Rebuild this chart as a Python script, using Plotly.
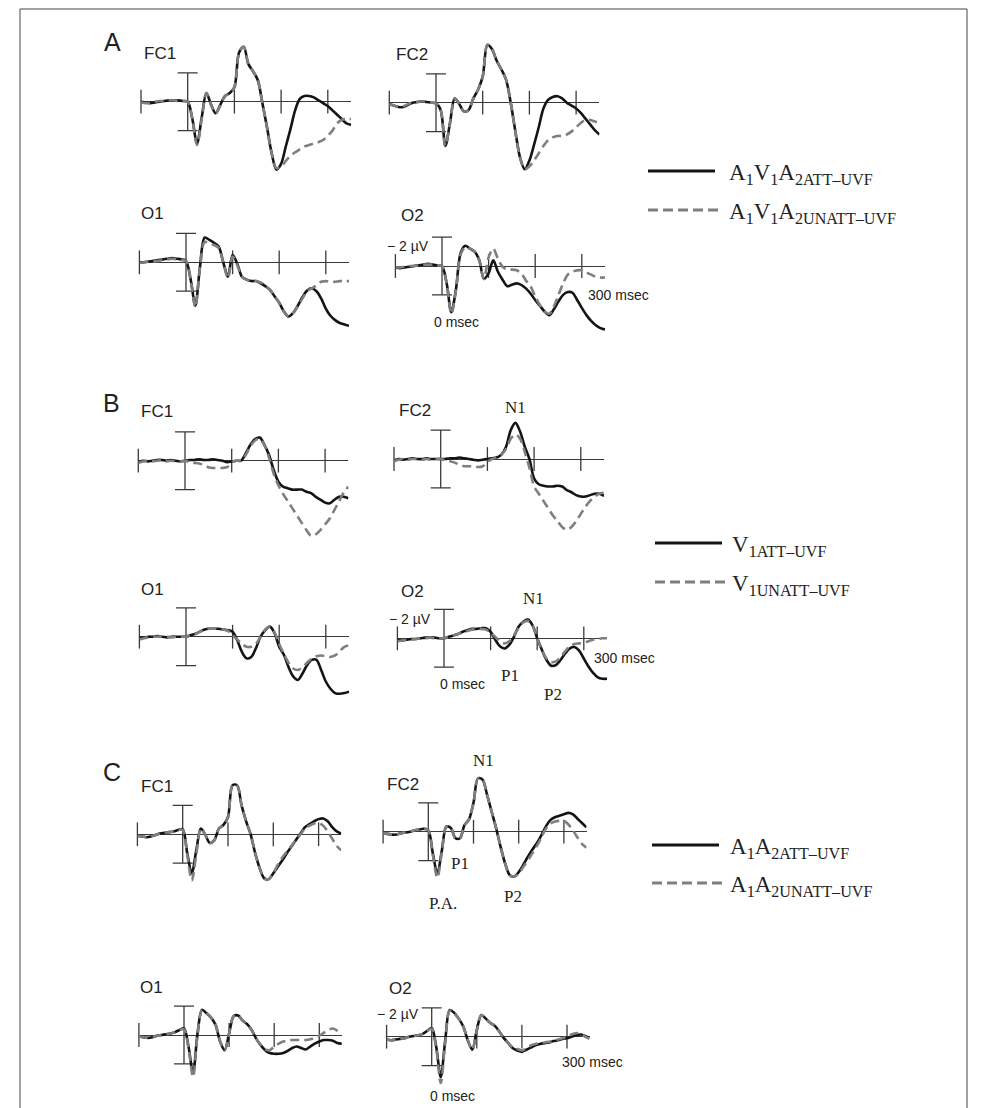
import plotly.graph_objects as go

W, H = 988, 1108
OFF = 8  # the page body adds an 8px margin around the figure

# ---------------- data (µV, negative plotted upward) ----------------
T = list(range(-100, 351, 10))          # msec
TICKS_MS = [-100, 100, 200, 300]        # tick marks on the time axis
SCALE_UV = 2                            # calibration bar ±2 µV

A_FC1_ATT = [0.0, 0.05, 0.1, 0.05, 0.0, -0.05, -0.1, -0.1, -0.1, -0.05,
             0.0, 1.2, 2.9, 1.1, -0.6, 0.2, 0.8, 0.2, -0.4, -0.6,
             -1.0, -3.4, -3.8, -2.6, -2.1, -1.5, 0.1, 1.8, 3.6, 4.7,
             4.3, 3.1, 1.9, 0.6, -0.2, -0.4, -0.4, -0.3, -0.1, 0.1,
             0.3, 0.6, 0.9, 1.2, 1.5, 1.6]
A_FC1_UNATT = [0.05, 0.1, 0.1, 0.0, -0.05, -0.05, -0.1, -0.1, -0.05, -0.05,
               0.0, 1.2, 3.0, 1.2, -0.6, 0.2, 0.8, 0.25, -0.4, -0.6,
               -1.0, -3.4, -3.8, -2.6, -2.1, -1.5, 0.1, 1.8, 3.6, 4.6,
               4.5, 4.1, 3.75, 3.5, 3.3, 3.1, 3.0, 2.9, 2.8, 2.65,
               2.35, 2.0, 1.5, 1.25, 1.2, 1.2]

A_FC2_ATT = [0.1, 0.2, 0.3, 0.3, 0.15, 0.0, -0.05, -0.1, -0.05, 0.0,
             0.05, 0.5, 3.0, 1.4, -0.3, 0.1, 0.6, 0.5, -0.3, -0.9,
             -1.8, -4.0, -3.7, -2.9, -2.3, -1.6, 0.0, 2.0, 3.8, 4.6,
             4.0, 2.9, 1.7, 0.4, -0.2, -0.4, -0.45, -0.3, 0.0, 0.2,
             0.4, 0.7, 1.1, 1.5, 1.9, 2.2]
A_FC2_UNATT = [0.1, 0.2, 0.3, 0.25, 0.1, 0.0, -0.05, -0.1, -0.05, 0.0,
               0.05, 0.5, 3.0, 1.4, -0.3, 0.1, 0.6, 0.5, -0.3, -0.9,
               -1.8, -4.0, -3.7, -2.9, -2.3, -1.6, 0.0, 2.0, 3.8, 4.6,
               4.4, 4.0, 3.5, 3.0, 2.6, 2.4, 2.3, 2.3, 2.2, 2.0,
               1.7, 1.4, 1.2, 1.2, 1.3, 1.4]

A_O1_ATT = [0.0, 0.0, -0.05, -0.1, -0.15, -0.2, -0.25, -0.3, -0.25, -0.2,
            -0.1, 1.2, 3.0, 0.3, -1.7, -1.55, -1.35, -1.1, 0.0, 1.0,
            -0.5, 0.1, 1.0, 1.2, 1.3, 1.3, 1.45, 1.65, 1.9, 2.35,
            2.8, 3.4, 3.75, 3.5, 3.0, 2.4, 1.95, 1.8, 2.0, 2.5,
            3.2, 3.7, 4.0, 4.2, 4.3, 4.4]
A_O1_UNATT = [0.05, 0.0, -0.05, -0.05, -0.1, -0.15, -0.2, -0.25, -0.2, -0.15,
              -0.1, 1.2, 3.1, 0.4, -1.4, -1.3, -1.2, -1.0, 0.0, 1.1,
              -0.4, 0.2, 1.0, 1.2, 1.3, 1.3, 1.4, 1.6, 1.9, 2.35,
              2.8, 3.4, 3.75, 3.5, 3.05, 2.5, 2.0, 1.8, 1.6, 1.35,
              1.3, 1.35, 1.35, 1.3, 1.3, 1.3]

A_O2_ATT = [0.1, 0.15, 0.1, 0.05, 0.0, -0.05, -0.1, -0.15, -0.1, -0.05,
            0.0, 1.2, 3.2, 1.6, -0.9, -1.4, -1.2, -1.0, -0.4, 0.9,
            0.5, -0.4, 0.4, 0.95, 1.4, 1.3, 1.2, 1.3, 1.55, 1.9,
            2.35, 2.75, 3.15, 3.4, 3.0, 2.45, 2.0, 1.8, 1.85, 2.35,
            2.9, 3.4, 3.8, 4.1, 4.3, 4.4]
A_O2_UNATT = [0.1, 0.1, 0.05, 0.0, 0.0, -0.05, -0.1, -0.1, -0.1, -0.05,
              0.0, 1.2, 3.3, 1.7, -0.8, -1.3, -1.2, -1.0, -0.4, 0.9,
              -0.6, -1.2, -0.5, 0.05, 0.25, 0.25, 0.3, 0.5, 1.0, 1.4,
              2.1, 2.7, 3.15, 3.3, 2.8, 2.0, 1.2, 0.6, 0.4, 0.3,
              0.3, 0.45, 0.6, 0.75, 0.8, 0.8]

B_FC1_ATT = [0.1, 0.0, 0.05, 0.0, -0.05, -0.05, 0.0, -0.05, 0.0, 0.05,
             0.0, -0.05, -0.05, -0.1, -0.05, -0.05, -0.1, -0.05, 0.0, 0.1,
             0.05, 0.0, 0.0, -0.5, -1.1, -1.5, -1.6, -1.1, -0.4, 0.65,
             1.45, 1.8, 1.9, 2.0, 2.0, 2.0, 2.15, 2.25, 2.5, 2.7,
             2.9, 2.95, 2.7, 2.5, 2.5, 2.6]
B_FC1_UNATT = [0.15, 0.05, 0.0, 0.05, 0.0, -0.05, 0.05, 0.0, 0.05, 0.05,
               0.0, 0.1, 0.15, 0.2, 0.3, 0.45, 0.5, 0.5, 0.5, 0.45,
               0.1, 0.0, 0.0, -0.4, -1.0, -1.4, -1.5, -1.1, -0.2, 0.9,
               1.7, 2.3, 2.8, 3.3, 3.8, 4.3, 4.8, 5.2, 5.1, 4.8,
               4.4, 4.0, 3.4, 2.8, 2.2, 1.8]

B_FC2_ATT = [0.1, 0.0, 0.05, 0.0, -0.05, 0.0, 0.0, -0.05, 0.0, 0.0,
             0.0, 0.0, -0.05, -0.05, -0.1, -0.05, 0.0, 0.05, 0.1, 0.05,
             0.0, -0.05, -0.1, -0.3, -0.85, -2.0, -2.5, -1.9, -0.85, 0.0,
             1.35, 1.75, 1.85, 1.9, 1.9, 1.85, 1.9, 2.15, 2.3, 2.5,
             2.6, 2.6, 2.5, 2.4, 2.4, 2.55]
B_FC2_UNATT = [0.15, 0.05, 0.0, 0.05, 0.0, 0.0, 0.05, 0.0, 0.05, 0.0,
               0.0, 0.1, 0.15, 0.25, 0.4, 0.5, 0.5, 0.5, 0.55, 0.5,
               0.2, 0.0, -0.1, -0.3, -0.7, -1.4, -1.7, -1.4, -0.5, 0.6,
               1.9, 2.4, 2.9, 3.4, 3.9, 4.3, 4.7, 4.9, 4.7, 4.3,
               3.8, 3.3, 2.9, 2.6, 2.4, 2.3]

B_O1_ATT = [0.1, 0.05, 0.0, 0.0, -0.05, 0.0, 0.05, 0.0, 0.0, 0.0,
            0.0, -0.1, -0.2, -0.35, -0.5, -0.55, -0.55, -0.55, -0.5, -0.45,
            -0.35, 0.25, 1.05, 1.5, 1.4, 0.8, 0.0, -0.45, -0.7, -0.25,
            0.7, 1.25, 2.1, 2.75, 3.0, 2.55, 1.95, 1.6, 1.6, 2.3,
            3.1, 3.6, 3.9, 3.95, 3.9, 3.8]
B_O1_UNATT = [0.2, 0.1, 0.05, 0.0, 0.0, -0.05, 0.0, 0.05, 0.0, 0.0,
              0.0, -0.1, -0.2, -0.35, -0.5, -0.55, -0.55, -0.55, -0.5, -0.4,
              -0.1, 0.2, 0.5, 0.7, 0.7, 0.5, 0.0, -0.5, -0.7, -0.3,
              0.5, 1.2, 1.8, 2.2, 2.3, 2.1, 1.8, 1.5, 1.35, 1.3,
              1.35, 1.4, 1.3, 1.0, 0.7, 0.6]

B_O2_ATT = [0.1, 0.15, 0.1, 0.05, 0.05, 0.0, -0.05, -0.05, -0.05, 0.0,
            0.0, -0.1, -0.2, -0.3, -0.45, -0.55, -0.65, -0.65, -0.7, -0.7,
            -0.45, 0.1, 0.55, 0.7, 0.45, -0.1, -0.8, -1.15, -1.3, -0.9,
            0.0, 0.8, 1.5, 1.9, 1.85, 1.5, 1.05, 0.7, 0.6, 0.85,
            1.4, 1.95, 2.4, 2.7, 2.8, 2.8]
B_O2_UNATT = [0.2, 0.15, 0.1, 0.1, 0.05, 0.0, 0.0, -0.05, 0.0, 0.0,
              0.0, -0.1, -0.2, -0.3, -0.4, -0.5, -0.6, -0.65, -0.65, -0.6,
              -0.4, -0.1, 0.2, 0.35, 0.2, -0.2, -0.7, -1.1, -1.2, -0.9,
              0.0, 0.8, 1.4, 1.65, 1.6, 1.3, 0.9, 0.55, 0.4, 0.35,
              0.3, 0.2, 0.1, 0.05, 0.0, 0.0]

C_FC1_ATT = [0.1, 0.15, 0.2, 0.15, 0.05, -0.05, -0.1, -0.15, -0.2, -0.3,
             -0.35, 1.3, 2.7, 1.1, -0.4, 0.05, 0.6, 0.4, -0.4, -0.65,
             -1.2, -3.4, -3.4, -2.0, -0.9, 0.0, 1.3, 2.35, 3.05, 3.1,
             2.7, 2.25, 1.8, 1.3, 0.85, 0.4, -0.05, -0.5, -0.7, -0.9,
             -1.05, -1.1, -0.9, -0.5, -0.2, -0.05]
C_FC1_UNATT = [0.1, 0.15, 0.2, 0.15, 0.05, -0.05, -0.1, -0.15, -0.2, -0.3,
               -0.3, 1.4, 3.2, 1.4, -0.4, 0.05, 0.6, 0.4, -0.4, -0.65,
               -1.2, -3.4, -3.4, -2.0, -0.9, 0.0, 1.3, 2.35, 3.05, 3.1,
               2.7, 2.1, 1.6, 1.2, 0.8, 0.4, 0.0, -0.4, -0.6, -0.75,
               -0.8, -0.6, -0.2, 0.3, 0.8, 1.1]

C_FC2_ATT = [0.1, 0.15, 0.2, 0.2, 0.1, 0.05, 0.0, -0.1, -0.15, -0.2,
             -0.1, 1.5, 2.9, 1.3, -0.35, -0.25, 0.45, 0.45, -0.45, -0.85,
             -2.0, -3.7, -3.6, -2.55, -1.4, -0.25, 1.05, 2.2, 3.0, 3.1,
             2.8, 2.3, 1.75, 1.25, 0.8, 0.25, -0.35, -0.8, -1.0, -1.1,
             -1.2, -1.3, -1.2, -0.9, -0.6, -0.3]
C_FC2_UNATT = [0.1, 0.15, 0.2, 0.2, 0.1, 0.05, 0.0, -0.1, -0.15, -0.2,
               -0.1, 1.6, 3.2, 1.4, -0.35, -0.25, 0.45, 0.45, -0.45, -0.85,
               -2.0, -3.7, -3.6, -2.55, -1.4, -0.25, 1.05, 2.2, 3.0, 3.1,
               2.9, 2.45, 2.0, 1.5, 1.0, 0.4, -0.2, -0.55, -0.7, -0.75,
               -0.75, -0.5, -0.1, 0.4, 0.85, 1.1]

C_O1_ATT = [0.1, 0.15, 0.2, 0.15, 0.05, 0.0, -0.05, -0.1, -0.2, -0.35,
            -0.45, 0.8, 2.65, -0.1, -1.75, -1.5, -1.2, -0.7, 0.45, 1.05,
            -0.1, -1.3, -1.35, -1.0, -0.75, -0.35, 0.25, 0.7, 1.05, 1.25,
            1.3, 1.3, 1.25, 1.1, 0.9, 0.8, 0.9, 1.0, 0.8, 0.6,
            0.45, 0.35, 0.35, 0.4, 0.55, 0.6]
C_O1_UNATT = [0.1, 0.15, 0.2, 0.15, 0.05, 0.0, -0.05, -0.1, -0.2, -0.35,
              -0.4, 0.9, 2.9, 0.0, -1.7, -1.5, -1.2, -0.7, 0.45, 1.05,
              -0.1, -1.3, -1.35, -1.0, -0.75, -0.35, 0.25, 0.7, 1.0, 1.05,
              0.8, 0.6, 0.45, 0.4, 0.35, 0.35, 0.35, 0.35, 0.3, 0.2,
              0.05, -0.15, -0.35, -0.45, -0.3, -0.1]

C_O2_ATT = [0.2, 0.25, 0.2, 0.15, 0.1, 0.0, -0.05, -0.1, -0.2, -0.4,
            -0.6, 0.7, 2.8, 0.25, -1.85, -1.65, -1.25, -0.7, 0.25, 0.9,
            -0.45, -1.5, -1.25, -0.95, -0.75, -0.35, 0.1, 0.45, 0.8, 0.95,
            1.05, 0.9, 0.75, 0.6, 0.5, 0.45, 0.4, 0.3, 0.25, 0.15,
            0.1, 0.0, -0.1, -0.15, -0.05, 0.1]
C_O2_UNATT = [0.2, 0.25, 0.2, 0.15, 0.1, 0.0, -0.05, -0.1, -0.2, -0.4,
              -0.55, 0.8, 3.2, 0.4, -1.8, -1.6, -1.25, -0.7, 0.25, 0.9,
              -0.45, -1.5, -1.25, -0.95, -0.75, -0.35, 0.1, 0.45, 0.75, 0.85,
              0.95, 0.8, 0.6, 0.5, 0.45, 0.4, 0.35, 0.3, 0.2, 0.1,
              0.0, -0.15, -0.25, -0.2, 0.0, 0.15]

# ---------------- layout of the panels (pixel geometry in the page) ----------------
# (att, unatt, x of 0 ms, px per ms, y of 0 µV, lower/upper µV range)
PANELS = [
    (A_FC1_ATT, A_FC1_UNATT, 187.7, 0.467, 101.7, -5, 6),
    (A_FC2_ATT, A_FC2_UNATT, 436.0, 0.467, 102.7, -5, 6),
    (A_O1_ATT, A_O1_UNATT, 186.0, 0.466, 262.3, -5, 6),
    (A_O2_ATT, A_O2_UNATT, 442.0, 0.466, 266.0, -5, 6),
    (B_FC1_ATT, B_FC1_UNATT, 185.0, 0.467, 460.7, -5, 6),
    (B_FC2_ATT, B_FC2_UNATT, 440.7, 0.467, 459.0, -5, 6),
    (B_O1_ATT, B_O1_UNATT, 186.0, 0.466, 636.7, -5, 6),
    (B_O2_ATT, B_O2_UNATT, 444.0, 0.466, 638.3, -5, 6),
    (C_FC1_ATT, C_FC1_UNATT, 182.7, 0.453, 834.3, -5, 6),
    (C_FC2_ATT, C_FC2_UNATT, 428.3, 0.452, 831.7, -5, 6),
    (C_O1_ATT, C_O1_UNATT, 184.0, 0.451, 1035.0, -4, 4.5),
    (C_O2_ATT, C_O2_UNATT, 431.7, 0.451, 1036.7, -4, 4.5),
]
PX_PER_UV = 14.45

AX = "#3a3a3a"
BLACK = "#141414"
GRAY = "#7f7f7f"
SANS = "Liberation Sans, Arial, Helvetica, sans-serif"
SERIF = "Liberation Serif, Times New Roman, serif"
TXT = "#222222"


def fx(x):
    """page pixel x -> figure pixel x"""
    return x - OFF


def fy(y):
    return y - OFF


fig = go.Figure()
layout = dict(width=W, height=H, margin=dict(l=0, r=0, t=0, b=0),
              paper_bgcolor="white", plot_bgcolor="rgba(0,0,0,0)",
              showlegend=False)

for i, (att, un, x0, s, y0, lo, hi) in enumerate(PANELS, start=1):
    xn = "x" if i == 1 else f"x{i}"
    yn = "y" if i == 1 else f"y{i}"
    xl = "xaxis" if i == 1 else f"xaxis{i}"
    yl = "yaxis" if i == 1 else f"yaxis{i}"
    left = fx(x0 + T[0] * s)
    right = fx(x0 + T[-1] * s)
    top = fy(y0 + lo * PX_PER_UV)
    bot = fy(y0 + hi * PX_PER_UV)
    layout[xl] = dict(domain=[left / W, right / W], range=[T[0], T[-1]],
                      showgrid=False, zeroline=False, showticklabels=False,
                      ticks="", showline=False, anchor=yn, fixedrange=True)
    layout[yl] = dict(domain=[max(0, 1 - bot / H), 1 - top / H], range=[hi, lo],
                      showgrid=False, zeroline=True, zerolinecolor=AX,
                      zerolinewidth=1.3, showticklabels=False, ticks="",
                      showline=False, anchor=xn, fixedrange=True)
    # tick marks on the time axis
    fig.add_trace(go.Scatter(x=TICKS_MS, y=[0] * len(TICKS_MS), xaxis=xn, yaxis=yn,
                             mode="markers", cliponaxis=False, hoverinfo="skip",
                             marker=dict(symbol="line-ns", size=17,
                                         line=dict(width=1.3, color=AX))))
    # calibration bar at 0 ms
    fig.add_trace(go.Scatter(x=[0], y=[0], xaxis=xn, yaxis=yn, mode="markers",
                             hoverinfo="skip", cliponaxis=False,
                             marker=dict(size=1, color="rgba(0,0,0,0)"),
                             error_y=dict(type="constant", value=SCALE_UV, width=10,
                                          thickness=1.3, color=AX)))
    fig.add_trace(go.Scatter(x=T, y=att, xaxis=xn, yaxis=yn, mode="lines",
                             cliponaxis=False,
                             line=dict(color=BLACK, width=2.6, shape="spline",
                                       smoothing=0.9)))
    fig.add_trace(go.Scatter(x=T, y=un, xaxis=xn, yaxis=yn, mode="lines",
                             cliponaxis=False,
                             line=dict(color=GRAY, width=2.6, shape="spline",
                                       smoothing=0.9, dash="9px,5px")))

fig.update_layout(**layout)


def px(x):
    return fx(x) / W


def py(y):
    return 1 - fy(y) / H


annotations = []


def ann(text, x, y, size, family=SANS, xanchor="center"):
    annotations.append(dict(text=text, x=px(x), y=py(y), xref="paper", yref="paper",
                            xanchor=xanchor, yanchor="middle", showarrow=False,
                            font=dict(family=family, size=size, color=TXT)))


# panel letters and electrode labels
for letter, (lx, ly) in zip("ABC", [(112, 42), (111, 403), (112, 772)]):
    ann(letter, lx, ly, 25)
for label, x, y in [("FC1", 160, 53), ("FC2", 412, 54), ("O1", 152, 214), ("O2", 412, 215),
                    ("FC1", 157, 411), ("FC2", 415, 410), ("O1", 152, 589), ("O2", 412, 591),
                    ("FC1", 157, 786), ("FC2", 403, 784), ("O1", 151, 987), ("O2", 400, 988)]:
    ann(label, x, y, 17)

# calibration texts
UV_TXT = "\u2212 2 \u00b5V"
for (ux, uy), (zx, zy), (sx, sy) in [((431, 246), (432, 322), (586, 295)),
                                     ((433, 619), (438, 684), (592, 658)),
                                     ((421, 1014), (428, 1096), (560, 1062))]:
    ann(UV_TXT, ux, uy, 14, xanchor="right")
    ann("0 msec", zx, zy, 14, xanchor="left")
    ann("300 msec", sx, sy, 14, xanchor="left")

# component labels (serif)
for label, x, y in [("N1", 516, 407), ("N1", 533, 598), ("P1", 510, 675), ("P2", 553, 694),
                    ("N1", 483, 760), ("P1", 460, 863), ("P.A.", 443, 903), ("P2", 513, 896)]:
    ann(label, x, y, 17, family=SERIF)

# legends
shapes = []
LEGENDS = [
    ("A<sub>1</sub>V<sub>1</sub>A<sub>2ATT\u2013UVF</sub>",
     "A<sub>1</sub>V<sub>1</sub>A<sub>2UNATT\u2013UVF</sub>", 648, 171, 210, 727),
    ("V<sub>1ATT\u2013UVF</sub>", "V<sub>1UNATT\u2013UVF</sub>", 655, 543, 582, 730),
    ("A<sub>1</sub>A<sub>2ATT\u2013UVF</sub>",
     "A<sub>1</sub>A<sub>2UNATT\u2013UVF</sub>", 652, 845, 883, 728),
]
for t1, t2, lx, y1, y2, tx in LEGENDS:
    shapes.append(dict(type="line", xref="paper", yref="paper", x0=px(lx), x1=px(lx + 67),
                       y0=py(y1), y1=py(y1), line=dict(color=BLACK, width=2.8)))
    shapes.append(dict(type="line", xref="paper", yref="paper", x0=px(lx), x1=px(lx + 74),
                       y0=py(y2), y1=py(y2), line=dict(color=GRAY, width=2.8, dash="10px,5px")))
    ann(t1, tx, y1 + 3, 23, family=SERIF, xanchor="left")
    ann(t2, tx, y2 + 3, 23, family=SERIF, xanchor="left")

# outer frame
shapes.append(dict(type="rect", xref="paper", yref="paper", x0=px(20), x1=px(967),
                   y0=-0.02, y1=py(9), line=dict(color="#444444", width=1)))

fig.update_layout(annotations=annotations, shapes=shapes)
fig.write_html("out.html")
